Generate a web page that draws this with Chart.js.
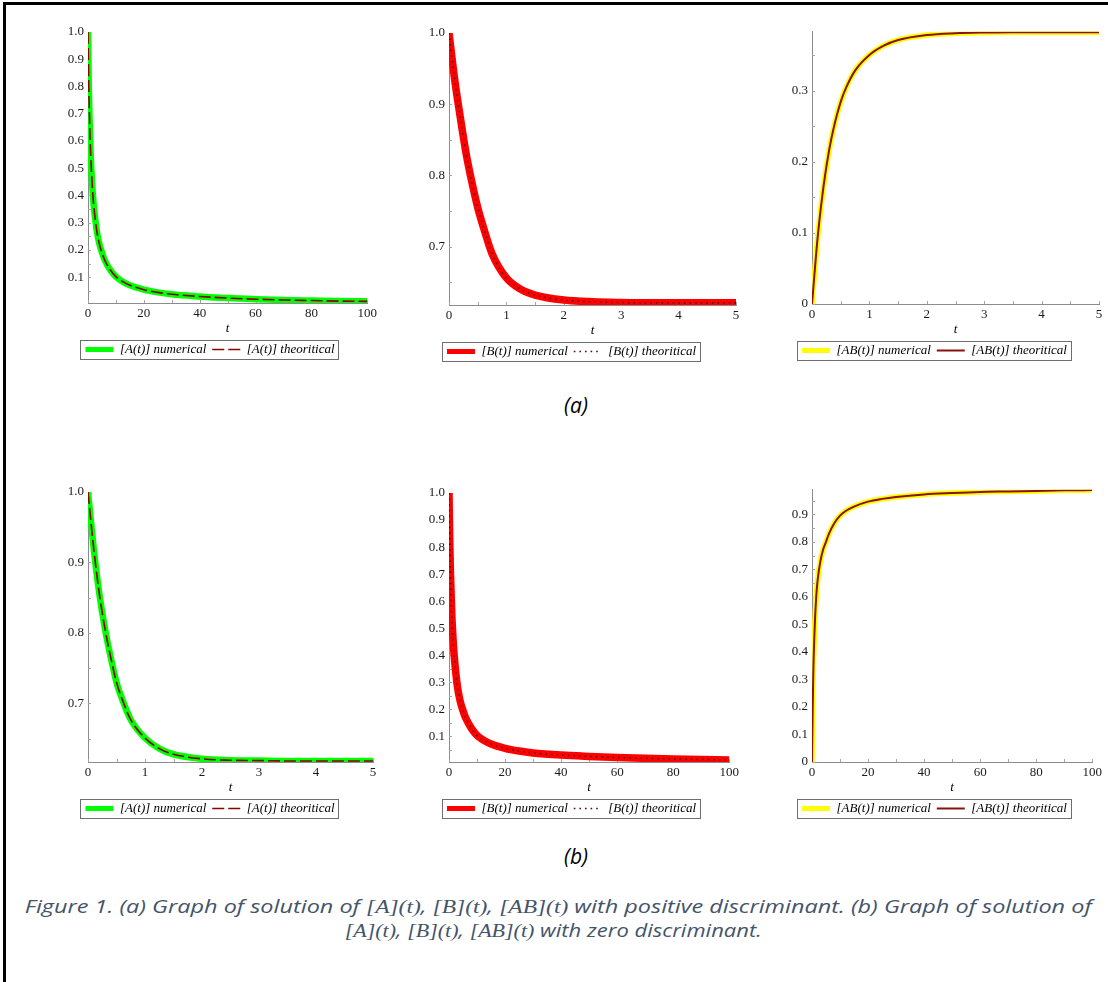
<!DOCTYPE html>
<html>
<head>
<meta charset="utf-8">
<title>Figure 1</title>
<script src="https://cdn.jsdelivr.net/npm/chart.js@4.4.1/dist/chart.umd.min.js"></script>
<style>
  html, body { margin: 0; padding: 0; background: #ffffff; }
  body { position: relative; width: 1108px; height: 982px; overflow: hidden; }
  #frame { position: absolute; left: 3px; top: 2px; right: 0; bottom: 0; border-left: 3px solid #000; border-top: 3px solid #000; }
  canvas.plot { position: absolute; }
  .tag { position: absolute; width: 120px; margin-left: -60px; text-align: center; font-family: "Open Sans", sans-serif; font-style: italic; font-size: 21px; line-height: 24px; color: #000; }
  .cap { position: absolute; left: 0; width: 1108px; text-align: center; color: #44546a; font-family: "Open Sans", sans-serif; font-style: italic; font-size: 18px; line-height: 22px; white-space: nowrap; }
  .cap .line { display: inline-block; transform-origin: 50% 50%; }
  .m { font-family: "Liberation Serif", serif; font-style: italic; }
</style>
</head>
<body>
<div id="frame"></div>
<div class="tag" style="left:576px;top:393px;">(a)</div>
<div class="tag" style="left:576px;top:844px;">(b)</div>
<div class="cap" id="cap1" style="top:895px;"><span class="line">Figure 1. (a) Graph of solution of <span class="m">[A](t)</span>, <span class="m">[B](t)</span>, <span class="m">[AB](t)</span> with positive discriminant. (b) Graph of solution of</span></div>
<div class="cap" id="cap2" style="top:919px;"><span class="line"><span class="m">[A](t)</span>, <span class="m">[B](t)</span>, <span class="m">[AB](t)</span> with zero discriminant.</span></div>

<script>
// ---- time grids ----
const tLong  = [0, 0.25, 0.5, 1, 1.5, 2, 3, 4, 5, 6, 8, 10, 12, 15, 20, 25, 30, 40, 50, 60, 70, 80, 90, 100];
const tShort = [0, 0.1, 0.2, 0.3, 0.4, 0.5, 0.6, 0.75, 1, 1.25, 1.5, 2, 2.5, 3, 3.5, 4, 4.5, 5];

// ---- (a) positive discriminant ----
const aNumPos  = [1.0, 0.82, 0.70, 0.54, 0.44, 0.37, 0.28, 0.225, 0.19, 0.162, 0.126, 0.102, 0.086, 0.07, 0.054, 0.044, 0.037, 0.029, 0.023, 0.019, 0.016, 0.014, 0.012, 0.011];
const aThPos   = [1.0, 0.82, 0.70, 0.54, 0.44, 0.37, 0.28, 0.225, 0.19, 0.162, 0.126, 0.102, 0.086, 0.07, 0.054, 0.044, 0.037, 0.029, 0.023, 0.019, 0.016, 0.014, 0.012, 0.011];
const bNumPos  = [1.0, 0.934, 0.88, 0.83, 0.79, 0.755, 0.727, 0.69, 0.656, 0.64, 0.632, 0.625, 0.6225, 0.6215, 0.621, 0.621, 0.621, 0.621];
const bThPos   = [1.0, 0.934, 0.88, 0.83, 0.79, 0.755, 0.727, 0.69, 0.656, 0.64, 0.632, 0.625, 0.6225, 0.6215, 0.621, 0.621, 0.621, 0.621];
const abNumPos = [0, 0.095, 0.165, 0.217, 0.255, 0.284, 0.305, 0.328, 0.350, 0.363, 0.371, 0.378, 0.3805, 0.3815, 0.382, 0.382, 0.382, 0.382];
const abThPos  = [0, 0.095, 0.165, 0.217, 0.255, 0.284, 0.305, 0.328, 0.350, 0.363, 0.371, 0.378, 0.3805, 0.3815, 0.382, 0.382, 0.382, 0.382];

// ---- (b) zero discriminant ----
const aNumZero  = [1.0, 0.92, 0.855, 0.805, 0.765, 0.73, 0.706, 0.677, 0.651, 0.636, 0.628, 0.6215, 0.6195, 0.619, 0.6185, 0.6185, 0.6185, 0.6185];
const aThZero   = [1.0, 0.92, 0.855, 0.805, 0.765, 0.73, 0.706, 0.677, 0.651, 0.636, 0.628, 0.6215, 0.6195, 0.619, 0.6185, 0.6185, 0.6185, 0.6185];
const bNumZero  = [1.0, 0.83, 0.71, 0.55, 0.45, 0.38, 0.285, 0.23, 0.195, 0.167, 0.13, 0.104, 0.088, 0.072, 0.056, 0.046, 0.039, 0.031, 0.026, 0.022, 0.019, 0.017, 0.015, 0.013];
const bThZero   = [1.0, 0.83, 0.71, 0.55, 0.45, 0.38, 0.285, 0.23, 0.195, 0.167, 0.13, 0.104, 0.088, 0.072, 0.056, 0.046, 0.039, 0.031, 0.026, 0.022, 0.019, 0.017, 0.015, 0.013];
const abNumZero = [0, 0.2, 0.34, 0.5, 0.6, 0.66, 0.73, 0.773, 0.80, 0.828, 0.868, 0.895, 0.912, 0.928, 0.946, 0.956, 0.963, 0.972, 0.977, 0.981, 0.983, 0.985, 0.987, 0.988];
const abThZero  = [0, 0.2, 0.34, 0.5, 0.6, 0.66, 0.73, 0.773, 0.80, 0.828, 0.868, 0.895, 0.912, 0.928, 0.946, 0.956, 0.963, 0.972, 0.977, 0.981, 0.983, 0.985, 0.987, 0.988];

// ---- tick values ----
const xTicksLong  = [0, 20, 40, 60, 80, 100];
const xTicksShort = [0, 1, 2, 3, 4, 5];
const yTicksUnit  = [0.1, 0.2, 0.3, 0.4, 0.5, 0.6, 0.7, 0.8, 0.9, 1.0];
const yTicksHigh  = [0.7, 0.8, 0.9, 1.0];
const yTicksABPos = [0, 0.1, 0.2, 0.3];
const yTicksABZero = [0, 0.1, 0.2, 0.3, 0.4, 0.5, 0.6, 0.7, 0.8, 0.9];

// ---- legend texts ----
const legendA  = ['[A(t)] numerical', '[A(t)] theoritical'];
const legendB  = ['[B(t)] numerical', '[B(t)] theoritical'];
const legendAB = ['[AB(t)] numerical', '[AB(t)] theoritical'];

const SERIF = '"Liberation Serif", "Times New Roman", serif';
const X_AXIS_H = 34;
const LEGEND_FONT = 13;
const TICK_FONT = 13;

const STYLES = {
  A:  { num: { color: '#00ff00', width: 6.5 }, th: { color: '#8b0000', width: 1.6, dash: [12, 4] } },
  B:  { num: { color: '#ff0000', width: 7.5 }, th: { color: '#600000', width: 1.6, dash: [1.6, 4] } },
  AB: { num: { color: '#ffff00', width: 5.5 }, th: { color: '#8b1010', width: 2, dash: [] } }
};

const PANELS = [
  { kind: 'A',  t: tLong,  num: aNumPos,   th: aThPos,   xMax: 100, xTicks: xTicksLong,  yMin: 0.005,  yMax: 1.0,    yTicks: yTicksUnit,   labels: legendA },
  { kind: 'B',  t: tShort, num: bNumPos,   th: bThPos,   xMax: 5,   xTicks: xTicksShort, yMin: 0.618,  yMax: 1.0,    yTicks: yTicksHigh,   labels: legendB },
  { kind: 'AB', t: tShort, num: abNumPos,  th: abThPos,  xMax: 5,   xTicks: xTicksShort, yMin: 0,      yMax: 0.3825, yTicks: yTicksABPos,  labels: legendAB },
  { kind: 'A',  t: tShort, num: aNumZero,  th: aThZero,  xMax: 5,   xTicks: xTicksShort, yMin: 0.617,  yMax: 1.0,    yTicks: yTicksHigh,   labels: legendA },
  { kind: 'B',  t: tLong,  num: bNumZero,  th: bThZero,  xMax: 100, xTicks: xTicksLong,  yMin: 0.0055, yMax: 1.0,    yTicks: yTicksUnit,   labels: legendB },
  { kind: 'AB', t: tLong,  num: abNumZero, th: abThZero, xMax: 100, xTicks: xTicksLong,  yMin: 0,      yMax: 0.989,  yTicks: yTicksABZero, labels: legendAB }
];

// canvas placement of each panel on the page
const BOXES = [
  { left: 51,  top: 20,  width: 329, plotTop: 32,  plotBottom: 303, yAxisW: 37, padRight: 11 },
  { left: 407, top: 20,  width: 340, plotTop: 33,  plotBottom: 305, yAxisW: 42, padRight: 11 },
  { left: 770, top: 20,  width: 338, plotTop: 31,  plotBottom: 304, yAxisW: 42, padRight: 9 },
  { left: 47,  top: 478, width: 337, plotTop: 492, plotBottom: 762, yAxisW: 41, padRight: 11 },
  { left: 412, top: 478, width: 330, plotTop: 493, plotBottom: 762, yAxisW: 37, padRight: 11 },
  { left: 775, top: 478, width: 330, plotTop: 489, plotBottom: 762, yAxisW: 37, padRight: 11 }
];

// frame around the legend entries
const legendFrame = {
  id: 'legendFrame',
  afterDraw(chart) {
    const hb = chart.legend && chart.legend.legendHitBoxes;
    if (!hb || !hb.length) return;
    let l = Infinity, r = -Infinity, t = Infinity, b = -Infinity;
    hb.forEach(h => {
      l = Math.min(l, h.left); r = Math.max(r, h.left + h.width);
      t = Math.min(t, h.top);  b = Math.max(b, h.top + h.height);
    });
    const ctx = chart.ctx;
    ctx.save();
    ctx.strokeStyle = '#6e6e6e';
    ctx.lineWidth = 1;
    ctx.setLineDash([]);
    ctx.strokeRect(Math.round(l - 5) + 0.5, Math.round(t - 3) + 0.5, Math.round(r - l + 9), Math.round(b - t + 6));
    ctx.restore();
  }
};

// small inward tick marks at major and half steps
const innerTicks = {
  id: 'innerTicks',
  beforeDatasetsDraw(chart) {
    const { ctx, chartArea: a, scales: { x, y } } = chart;
    const marks = scale => {
      const vals = scale.ticks.map(tk => tk.value);
      const half = (vals[1] - vals[0]) / 2;
      const out = [];
      for (let k = Math.ceil(scale.min / half - 1e-6); k * half <= scale.max + 1e-9; k++) out.push(k * half);
      return out;
    };
    ctx.save();
    ctx.strokeStyle = '#a6a6a6';
    ctx.lineWidth = 1;
    ctx.beginPath();
    marks(x).forEach(v => {
      const p = Math.round(x.getPixelForValue(v)) + 0.5;
      ctx.moveTo(p, a.bottom); ctx.lineTo(p, a.bottom - 3);
    });
    marks(y).forEach(v => {
      const p = Math.round(y.getPixelForValue(v)) + 0.5;
      ctx.moveTo(a.left, p); ctx.lineTo(a.left + 3, p);
    });
    ctx.stroke();
    ctx.restore();
  }
};

function toPoints(ts, vs) { return ts.map((t, i) => ({ x: t, y: vs[i] })); }

function makePanel(cfg, box) {
  const H = box.plotBottom + X_AXIS_H + LEGEND_FONT + 16 + 2 - box.top;
  const cv = document.createElement('canvas');
  cv.className = 'plot';
  cv.width = box.width; cv.height = H;
  cv.style.left = box.left + 'px'; cv.style.top = box.top + 'px';
  cv.style.width = box.width + 'px'; cv.style.height = H + 'px';
  document.body.appendChild(cv);
  const st = STYLES[cfg.kind];

  new Chart(cv, {
    type: 'line',
    data: {
      datasets: [
        { label: cfg.labels[0], data: toPoints(cfg.t, cfg.num), borderColor: st.num.color, borderWidth: st.num.width,
          legendWidth: 5, pointRadius: 0, cubicInterpolationMode: 'monotone', order: 1 },
        { label: cfg.labels[1], data: toPoints(cfg.t, cfg.th), borderColor: st.th.color, borderWidth: st.th.width,
          borderDash: st.th.dash, pointRadius: 0, cubicInterpolationMode: 'monotone', order: 0 }
      ]
    },
    options: {
      responsive: false,
      animation: false,
      devicePixelRatio: 1,
      layout: { padding: { left: 0, top: box.plotTop - box.top, right: box.padRight, bottom: 2 } },
      plugins: {
        tooltip: { enabled: false },
        legend: {
          position: 'bottom',
          align: 'center',
          labels: {
            usePointStyle: true,
            pointStyle: 'line',
            pointStyleWidth: 28,
            padding: 6,
            color: '#000',
            font: { family: SERIF, style: 'italic', size: LEGEND_FONT },
            generateLabels: chart => chart.data.datasets.map((ds, i) => ({
              text: ds.label, datasetIndex: i, hidden: false,
              fillStyle: ds.borderColor, strokeStyle: ds.borderColor,
              lineWidth: ds.legendWidth || ds.borderWidth,
              lineDash: ds.borderDash || [], lineCap: 'butt',
              pointStyle: 'line', fontColor: '#000'
            }))
          }
        }
      },
      scales: {
        x: {
          type: 'linear', min: 0, max: cfg.xMax,
          afterBuildTicks: s => { s.ticks = cfg.xTicks.map(v => ({ value: v })); },
          afterFit: s => { s.height = X_AXIS_H; },
          ticks: { autoSkip: false, maxRotation: 0, padding: 3, color: '#1a1a1a', font: { family: SERIF, size: TICK_FONT },
                   callback: v => String(v) },
          grid: { display: true, drawOnChartArea: false, drawTicks: false },
          border: { display: true, color: '#8c8c8c', width: 1 },
          title: { display: true, text: 't', color: '#000', font: { family: SERIF, style: 'italic', size: TICK_FONT },
                   padding: { top: 0, bottom: 1 } }
        },
        y: {
          type: 'linear', min: cfg.yMin, max: cfg.yMax,
          afterBuildTicks: s => { s.ticks = cfg.yTicks.map(v => ({ value: v })); },
          afterFit: s => { s.width = box.yAxisW; },
          ticks: { autoSkip: false, padding: 4, color: '#1a1a1a', font: { family: SERIF, size: TICK_FONT },
                   callback: v => (v === 0 ? '0' : v.toFixed(1)) },
          grid: { display: true, drawOnChartArea: false, drawTicks: false },
          border: { display: true, color: '#8c8c8c', width: 1 }
        }
      }
    },
    plugins: [legendFrame, innerTicks]
  });
}

PANELS.forEach((cfg, i) => makePanel(cfg, BOXES[i]));

// stretch caption lines to their column width
function fitCaption(id, left, right) {
  const span = document.querySelector('#' + id + ' .line');
  span.style.transform = 'none';
  const r = span.getBoundingClientRect();
  const sx = (right - left) / r.width;
  const dx = (left + right) / 2 - (r.left + r.width / 2);
  span.style.transform = 'translateX(' + dx + 'px) scaleX(' + sx + ')';
}
function fitAll() { fitCaption('cap1', 25, 1092); fitCaption('cap2', 345, 762); }
fitAll();
if (document.fonts && document.fonts.ready) document.fonts.ready.then(fitAll);
</script>
</body>
</html>
